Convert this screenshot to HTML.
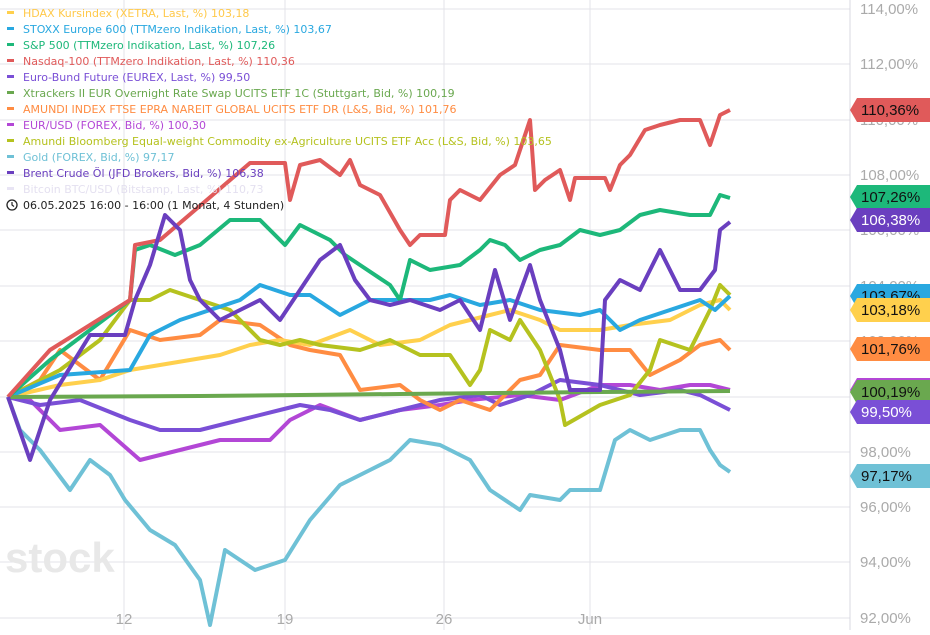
<!DOCTYPE html>
<html><head><meta charset="utf-8"><style>
body{margin:0;background:#fff;width:930px;height:630px;overflow:hidden;font-family:"Liberation Sans",sans-serif}
</style></head><body>
<svg width="930" height="630" xmlns="http://www.w3.org/2000/svg" font-family="Liberation Sans, sans-serif">
<g stroke="#e3e3e8" stroke-width="1">
<line x1="0" y1="9" x2="850" y2="9"/><line x1="0" y1="64" x2="850" y2="64"/><line x1="0" y1="120" x2="850" y2="120"/><line x1="0" y1="175" x2="850" y2="175"/><line x1="0" y1="230" x2="850" y2="230"/><line x1="0" y1="286" x2="850" y2="286"/><line x1="0" y1="341" x2="850" y2="341"/><line x1="0" y1="397" x2="850" y2="397"/><line x1="0" y1="452" x2="850" y2="452"/><line x1="0" y1="507" x2="850" y2="507"/><line x1="0" y1="562" x2="850" y2="562"/><line x1="0" y1="618" x2="850" y2="618"/>
<line x1="124" y1="0" x2="124" y2="630"/><line x1="285" y1="0" x2="285" y2="630"/><line x1="444" y1="0" x2="444" y2="630"/><line x1="590" y1="0" x2="590" y2="630"/>
<line x1="850" y1="0" x2="850" y2="630" stroke="#d8d8e0"/>
</g>
<g fill="#aaa" font-size="15">
<text x="860" y="14">114,00%</text><text x="860" y="69">112,00%</text><text x="860" y="125">110,00%</text><text x="860" y="180">108,00%</text><text x="860" y="235">106,00%</text><text x="860" y="291">104,00%</text><text x="860" y="346">102,00%</text><text x="860" y="402">100,00%</text><text x="860" y="457">98,00%</text><text x="860" y="512">96,00%</text><text x="860" y="567">94,00%</text><text x="860" y="623">92,00%</text>
<text x="124" y="624" text-anchor="middle">12</text><text x="285" y="624" text-anchor="middle">19</text><text x="444" y="624" text-anchor="middle">26</text><text x="590" y="624" text-anchor="middle">Jun</text>
</g>
<text x="5" y="572" font-size="42" fill="#e8e8e8" font-weight="bold">stock</text>
<g fill="none" stroke-width="4" stroke-linejoin="round">
<polyline stroke="#6fc1d6" points="8,397 20,430 40,450 70,490 90,460 110,475 125,500 150,530 175,545 200,580 210,625 225,550 240,560 255,570 285,560 310,520 340,485 370,470 390,460 410,440 440,445 470,460 490,490 520,510 530,495 560,500 570,490 600,490 615,440 630,430 650,440 680,430 700,430 710,450 720,465 730,472"/>
<polyline stroke="#b347d6" points="8,397 30,400 60,430 100,425 140,460 180,450 220,440 270,440 290,420 320,405 360,420 400,410 440,405 470,400 520,395 560,400 600,385 630,385 660,390 690,385 710,385 730,390"/>
<polyline stroke="#7a4fd6" points="8,397 40,405 80,400 130,420 160,430 200,430 240,420 280,410 300,405 330,410 360,420 400,410 440,400 480,395 500,405 530,395 560,380 600,385 640,395 680,390 700,395 710,400 730,410"/>
<polyline stroke="#ff8c42" points="8,397 40,380 60,350 100,380 130,330 160,340 200,335 220,320 260,325 290,345 310,350 340,355 360,390 400,385 420,400 440,410 460,400 490,410 520,380 540,375 560,345 600,350 630,350 650,375 680,360 700,345 720,340 730,350"/>
<polyline stroke="#ffd04d" points="8,397 60,385 100,380 130,370 160,365 220,355 250,345 280,340 310,345 350,330 380,345 420,340 450,325 490,315 510,310 540,320 560,330 600,330 630,325 670,320 700,305 720,300 730,310"/>
<polyline stroke="#b5c21f" points="8,397 60,370 100,340 130,300 150,300 170,290 200,300 230,310 260,340 280,345 300,340 320,345 360,350 390,340 420,355 450,355 470,385 480,370 490,330 510,340 520,320 540,350 560,400 565,425 600,405 630,395 650,370 660,340 690,350 710,310 720,285 730,295"/>
<polyline stroke="#29a8e0" points="8,397 60,375 130,370 150,335 180,320 210,310 240,300 260,285 290,295 310,295 340,315 370,300 400,300 430,300 450,295 480,305 510,300 540,310 580,315 600,310 620,330 640,320 670,310 700,300 715,310 730,296"/>
<polyline stroke="#6aa84f" points="8,397 200,396 400,394 600,392 730,391"/>
<polyline stroke="#1db87a" points="8,397 50,360 130,300 135,250 150,245 175,255 200,245 230,220 260,220 285,245 300,225 330,240 345,255 360,265 390,285 400,300 410,260 430,270 460,265 480,250 490,240 505,245 520,260 540,250 560,245 580,230 600,235 620,230 640,215 660,210 690,215 710,215 720,195 730,198"/>
<polyline stroke="#e05a5a" points="8,397 50,350 130,300 135,245 160,240 250,163 285,163 290,200 300,165 320,160 340,175 350,160 360,185 380,195 400,230 410,245 420,235 445,235 450,200 460,190 480,200 500,175 515,165 530,120 535,190 545,180 560,170 570,200 575,178 605,178 610,190 620,165 630,155 645,130 660,125 680,120 700,120 710,145 720,115 730,110"/>
<polyline stroke="#6a3fbf" points="8,397 30,460 50,400 90,335 125,335 135,300 150,265 165,215 180,230 190,280 200,300 220,320 240,310 260,300 280,320 300,290 320,260 340,245 355,280 370,300 390,305 410,300 440,310 460,300 480,330 495,270 510,320 530,265 540,300 560,350 570,390 600,390 605,300 620,280 640,290 660,250 680,290 700,290 715,270 720,230 730,222"/>
</g>
<g font-size="11" font-family="DejaVu Sans, sans-serif">
<rect x="7" y="11" width="7" height="3" fill="#ffd04d"/><text x="23" y="17" fill="#ffc94a">HDAX Kursindex (XETRA, Last, %)  103,18</text>
<rect x="7" y="27" width="7" height="3" fill="#29a8e0"/><text x="23" y="33" fill="#29a8e0">STOXX Europe 600 (TTMzero Indikation, Last, %)  103,67</text>
<rect x="7" y="43" width="7" height="3" fill="#1db87a"/><text x="23" y="49" fill="#1db87a">S&amp;P 500 (TTMzero Indikation, Last, %)  107,26</text>
<rect x="7" y="59" width="7" height="3" fill="#e05a5a"/><text x="23" y="65" fill="#e05a5a">Nasdaq-100 (TTMzero Indikation, Last, %)  110,36</text>
<rect x="7" y="75" width="7" height="3" fill="#7a4fd6"/><text x="23" y="81" fill="#7a4fd6">Euro-Bund Future (EUREX, Last, %)  99,50</text>
<rect x="7" y="91" width="7" height="3" fill="#6aa84f"/><text x="23" y="97" fill="#6aa84f">Xtrackers II EUR Overnight Rate Swap UCITS ETF 1C (Stuttgart, Bid, %)  100,19</text>
<rect x="7" y="107" width="7" height="3" fill="#ff8c42"/><text x="23" y="113" fill="#ff8c42">AMUNDI INDEX FTSE EPRA NAREIT GLOBAL UCITS ETF DR (L&amp;S, Bid, %)  101,76</text>
<rect x="7" y="123" width="7" height="3" fill="#b347d6"/><text x="23" y="129" fill="#b347d6">EUR/USD (FOREX, Bid, %)  100,30</text>
<rect x="7" y="139" width="7" height="3" fill="#b5c21f"/><text x="23" y="145" fill="#b5c21f">Amundi Bloomberg Equal-weight Commodity ex-Agriculture UCITS ETF Acc (L&amp;S, Bid, %)  103,65</text>
<rect x="7" y="155" width="7" height="3" fill="#6fc1d6"/><text x="23" y="161" fill="#6fc1d6">Gold (FOREX, Bid, %)  97,17</text>
<rect x="7" y="171" width="7" height="3" fill="#6a3fbf"/><text x="23" y="177" fill="#6a3fbf">Brent Crude Öl (JFD Brokers, Bid, %)  106,38</text>
<rect x="7" y="187" width="7" height="3" fill="#e8e4f4"/><text x="23" y="193" fill="#e4e0f0">Bitcoin BTC/USD (Bitstamp, Last, %)  110,73</text>
<circle cx="12" cy="205" r="5" fill="none" stroke="#222" stroke-width="1.3"/><path d="M12 202v3l2 1.5" stroke="#222" fill="none" stroke-width="1.2"/>
<text x="23" y="209" fill="#222">06.05.2025 16:00 - 16:00  (1 Monat, 4 Stunden)</text>
</g>
<g font-size="15">
<g transform="translate(0,110)"><path d="M850,0 L857,-12 H930 V12 H857Z" fill="#e05a5a"/><text x="861" y="5" fill="#111">110,36%</text></g>
<g transform="translate(0,197)"><path d="M850,0 L857,-12 H930 V12 H857Z" fill="#1db87a"/><text x="861" y="5" fill="#111">107,26%</text></g>
<g transform="translate(0,220)"><path d="M850,0 L857,-12 H930 V12 H857Z" fill="#6a3fbf"/><text x="861" y="5" fill="#fff">106,38%</text></g>
<g transform="translate(0,296)"><path d="M850,0 L857,-12 H930 V12 H857Z" fill="#29a8e0"/><text x="861" y="5" fill="#111">103,67%</text></g>
<g transform="translate(0,310)"><path d="M850,0 L857,-12 H930 V12 H857Z" fill="#ffd04d"/><text x="861" y="5" fill="#111">103,18%</text></g>
<g transform="translate(0,349)"><path d="M850,0 L857,-12 H930 V12 H857Z" fill="#ff8c42"/><text x="861" y="5" fill="#111">101,76%</text></g>
<g transform="translate(0,390)"><path d="M850,0 L857,-12 H930 V12 H857Z" fill="#b347d6"/></g>
<g transform="translate(0,392)"><path d="M850,0 L857,-12 H930 V12 H857Z" fill="#6aa84f"/><text x="861" y="5" fill="#111">100,19%</text></g>
<g transform="translate(0,412)"><path d="M850,0 L857,-12 H930 V12 H857Z" fill="#7a4fd6"/><text x="861" y="5" fill="#fff">99,50%</text></g>
<g transform="translate(0,476)"><path d="M850,0 L857,-12 H930 V12 H857Z" fill="#6fc1d6"/><text x="861" y="5" fill="#111">97,17%</text></g>
</g>
</svg>
</body></html>
